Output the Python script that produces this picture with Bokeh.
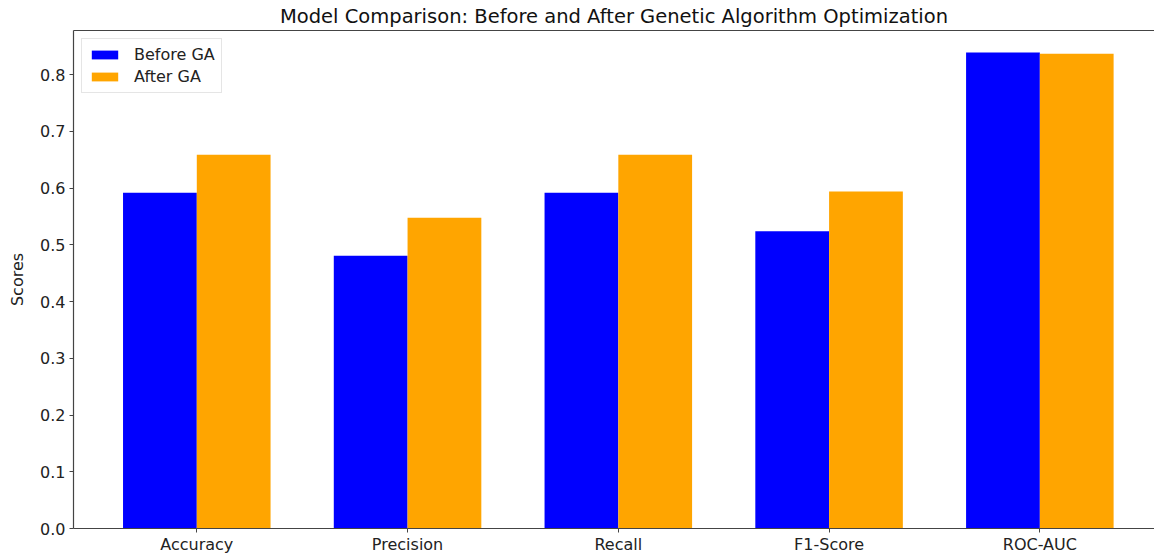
from bokeh.plotting import figure
from bokeh.models import (ColumnDataSource, FixedTicker, PrintfTickFormatter, LinearAxis,
                          Range1d, Legend, LegendItem)
from bokeh.transform import dodge
from bokeh.embed import file_html
from bokeh.resources import INLINE

categories = ["Accuracy", "Precision", "Recall", "F1-Score", "ROC-AUC"]
before_ga = [0.592, 0.481, 0.592, 0.524, 0.839]
after_ga = [0.659, 0.548, 0.659, 0.594, 0.837]
y_ticks = [0.0, 0.1, 0.2, 0.3, 0.4, 0.5, 0.6, 0.7, 0.8]

FONT = "DejaVu Sans"
AX = "#444444"

src = ColumnDataSource(dict(x=list(range(len(categories))), before=before_ga, after=after_ga))

p = figure(width=1154, height=556, output_backend="svg", toolbar_location=None,
           x_range=Range1d(-0.585, 4.544), y_range=Range1d(0, 0.878),
           title="Model Comparison: Before and After Genetic Algorithm Optimization",
           min_border_left=73, min_border_right=0, min_border_top=0, min_border_bottom=0)
p.outline_line_color = None
p.grid.visible = False

p.title.text_font = FONT
p.title.text_font_size = "19.5px"
p.title.text_font_style = "normal"
p.title.text_color = "#111111"
p.title.align = "center"
p.title.standoff = 5

r1 = p.vbar(x=dodge("x", -0.175, range=p.x_range), top="before", width=0.35, source=src,
            fill_color="#0000ff", line_color=None)
r2 = p.vbar(x=dodge("x", 0.175, range=p.x_range), top="after", width=0.35, source=src,
            fill_color="#ffa500", line_color=None)

xa = p.xaxis[0]
xa.ticker = FixedTicker(ticks=list(range(len(categories))))
xa.major_label_overrides = {i: c for i, c in enumerate(categories)}
ya = p.yaxis[0]
ya.ticker = FixedTicker(ticks=y_ticks)
ya.formatter = PrintfTickFormatter(format="%.1f")
ya.axis_label = "Scores"
ya.axis_label_standoff = 10

for ax in (xa, ya):
    ax.axis_line_color = AX
    ax.axis_line_width = 1.2
    ax.major_tick_line_color = AX
    ax.major_tick_in = 0
    ax.major_tick_out = 4
    ax.minor_tick_line_color = None
    ax.major_label_text_font = FONT
    ax.major_label_text_font_size = "16px"
    ax.major_label_text_color = "#222222"
    ax.axis_label_text_font = FONT
    ax.axis_label_text_font_size = "16px"
    ax.axis_label_text_font_style = "normal"
    ax.axis_label_text_color = "#222222"
xa.major_label_standoff = 2
ya.major_label_standoff = 4

top = LinearAxis(ticker=FixedTicker(ticks=[]), axis_line_color=AX, axis_line_width=1.2,
                 major_tick_line_color=None, minor_tick_line_color=None,
                 major_label_text_font_size="0px")
p.add_layout(top, "above")

legend = Legend(items=[LegendItem(label="Before GA", renderers=[r1]),
                       LegendItem(label="After GA", renderers=[r2])],
                location="top_left")
legend.margin = 8
legend.padding = 6
legend.spacing = 3
legend.glyph_width = 33
legend.glyph_height = 11
legend.label_height = 18
legend.label_standoff = 13
legend.label_text_font = FONT
legend.label_text_font_size = "16px"
legend.label_text_color = "#222222"
legend.border_line_color = "#cccccc"
legend.border_line_width = 1
legend.background_fill_alpha = 0.8
p.add_layout(legend)

open("out.html", "w").write(file_html(p, INLINE))
